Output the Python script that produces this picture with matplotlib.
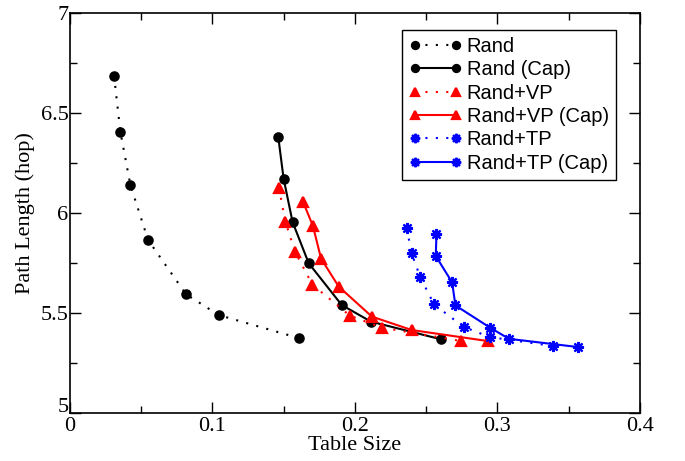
import matplotlib
matplotlib.use("Agg")
import matplotlib.pyplot as plt
import matplotlib.transforms as mtransforms
from matplotlib.ticker import MultipleLocator

rand_x = [0.031, 0.0354, 0.0425, 0.0549, 0.0815, 0.1044, 0.1606]
rand_y = [6.687, 6.407, 6.139, 5.865, 5.594, 5.49, 5.375]

randcap_x = [0.1463, 0.150, 0.1563, 0.1676, 0.1908, 0.2113, 0.2608]
randcap_y = [6.378, 6.172, 5.955, 5.749, 5.54, 5.457, 5.368]

vp_x = [0.1467, 0.1512, 0.158, 0.1702, 0.1965, 0.219, 0.2746]
vp_y = [6.127, 5.957, 5.807, 5.642, 5.487, 5.427, 5.36]

vpcap_x = [0.1636, 0.1706, 0.1763, 0.1887, 0.212, 0.2399, 0.2932]
vpcap_y = [6.057, 5.935, 5.772, 5.632, 5.482, 5.415, 5.36]

tp_x = [0.2364, 0.2399, 0.2458, 0.2556, 0.2763, 0.2946, 0.3392]
tp_y = [5.923, 5.798, 5.681, 5.543, 5.431, 5.38, 5.335]

tpcap_x = [0.2573, 0.2568, 0.2683, 0.2706, 0.2951, 0.3082, 0.3565]
tpcap_y = [5.893, 5.785, 5.653, 5.538, 5.426, 5.371, 5.33]

labels = ["Rand", "Rand (Cap)", "Rand+VP", "Rand+VP (Cap)", "Rand+TP", "Rand+TP (Cap)"]

fig = plt.figure(figsize=(6.85, 4.61), dpi=100)
ax = fig.add_axes([0.102, 0.104, 0.832, 0.868])

dot = (0, (1, 4))
star = (8, 2, 0)
series = [
    (rand_x, rand_y, "black", dot, "o", 6),
    (randcap_x, randcap_y, "black", "-", "o", 6),
    (vp_x, vp_y, "red", dot, "^", 6.5),
    (vpcap_x, vpcap_y, "red", "-", "^", 6.5),
    (tp_x, tp_y, "blue", dot, star, 8),
    (tpcap_x, tpcap_y, "blue", "-", star, 8),
]
for (x, y, c, ls, m, ms), lab in zip(series, labels):
    ax.plot(x, y, color=c, linestyle=ls, linewidth=1.5, marker=m, markersize=ms,
            markerfacecolor=c, markeredgecolor=c, markeredgewidth=1.6, label=lab)

ax.set_xlim(0, 0.4)
ax.set_ylim(5, 7)
ax.xaxis.set_minor_locator(MultipleLocator(0.05))
ax.yaxis.set_minor_locator(MultipleLocator(0.25))
ax.set_xticks([0, 0.1, 0.2, 0.3, 0.4])
ax.set_xticklabels(["0", "0.1", "0.2", "0.3", "0.4"])
ax.set_yticks([5, 5.5, 6, 6.5, 7])
ax.set_yticklabels(["5", "5.5", "6", "6.5", "7"])
ax.tick_params(which="both", direction="in", top=True, right=True, width=1)
ax.tick_params(which="major", length=8, labelsize=16)
ax.tick_params(axis="x", which="major", pad=3)
ax.tick_params(axis="y", which="major", pad=1)
ax.tick_params(which="minor", length=5)
for lab in ax.get_xticklabels() + ax.get_yticklabels():
    lab.set_fontfamily("Liberation Serif")
for s in ax.spines.values():
    s.set_linewidth(1.2)

# nudge the bottom y tick label "5" up so it sits above the x "0" label
ylab0 = ax.get_yticklabels()[0]
ylab0.set_transform(ylab0.get_transform() +
                    mtransforms.ScaledTranslation(0, 6 / 72, fig.dpi_scale_trans))

ax.set_xlabel("Table Size", fontsize=16, family="Liberation Serif", labelpad=0)
ax.set_ylabel("Path Length (hop)", fontsize=16, family="Liberation Serif", labelpad=4)

leg = ax.legend(loc="upper right", bbox_to_anchor=(0.958, 0.958), numpoints=2,
                prop={"family": "Liberation Sans", "size": 14.5}, handlelength=2.6,
                labelspacing=0.22, handletextpad=0.25, borderpad=0.35,
                fancybox=False, framealpha=1, edgecolor="black", markerscale=0.85,
                borderaxespad=0)
leg.get_frame().set_linewidth(1.0)

fig.savefig("out.png", dpi=100)
